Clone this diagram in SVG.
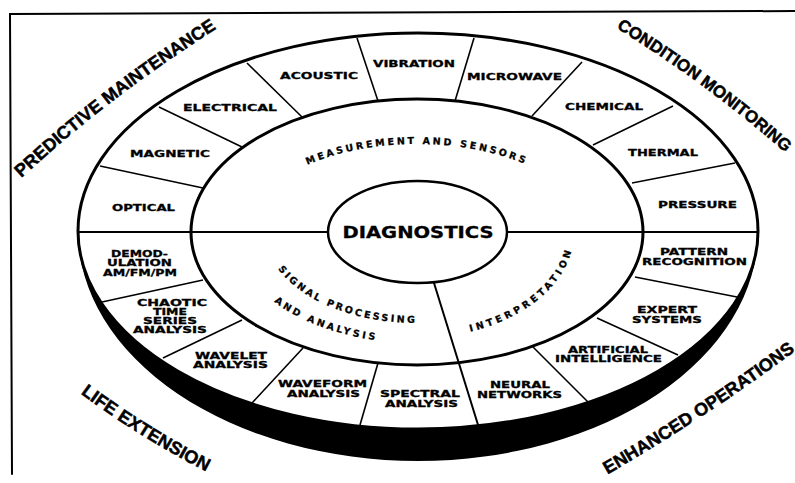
<svg xmlns="http://www.w3.org/2000/svg" width="795" height="483" viewBox="0 0 795 483">
<style>
.ln{stroke:#000;fill:none;stroke-linecap:round}
.sep{stroke:#000;stroke-width:1.6;fill:none}
.lbl{font-family:"DejaVu Sans",Verdana,sans-serif;font-weight:bold;font-size:9.5px;fill:#000;stroke:#000;stroke-width:0.3;text-anchor:middle}
.sm{font-size:9px}
.arc{font-family:"DejaVu Sans",Verdana,sans-serif;font-weight:bold;font-size:9.5px;fill:#000;stroke:#000;stroke-width:0.3;letter-spacing:2.7px}
.big{font-family:"Liberation Sans",Arial,sans-serif;font-weight:bold;font-size:18px;fill:#000;stroke:#000;stroke-width:0.5;text-anchor:middle}
.hub{font-family:"DejaVu Sans",Verdana,sans-serif;font-weight:bold;font-size:15px;fill:#000;stroke:#000;stroke-width:0.3;text-anchor:middle}
</style>
<defs>
<path id="pPred" d="M 15,184 Q 110,95 224,24"/>
<path id="pCond" d="M 603,20 Q 707,82 797,163"/>
<path id="pLife" d="M 69,385 Q 140,439 219,478"/>
<path id="pEnh" d="M 596,481 Q 705,419 806,343"/>
<path id="pMeas" d="M 247,232 A 170,88 0 0 1 587,232"/>
<path id="pSig" d="M 265,232 A 152,91 0 0 0 569,232"/>
<path id="pAnd" d="M 233,232 A 184,111 0 0 0 601,232"/>
<path id="pInt" d="M 260,232 A 157,106 0 0 0 574,232 A 157,106 0 0 0 417,126"/>
</defs>
<rect width="795" height="483" fill="#fff"/>
<polyline class="ln" stroke-width="2" points="12,474 10,14 795,11"/>

<g id="disk">
<path d="M 78,231 A 340,198 0 0 0 758,231 A 340,230 0 0 1 78,231 Z" fill="#000"/>
<ellipse cx="418" cy="231" rx="340" ry="198" fill="#fff" stroke="#000" stroke-width="3"/>
<ellipse cx="417" cy="232" rx="226" ry="133" fill="none" stroke="#000" stroke-width="3"/>
</g>

<g id="connectors">
<line class="ln" stroke-width="2" x1="79" y1="232" x2="328" y2="232"/>
<line class="ln" stroke-width="2" x1="507" y1="232" x2="757" y2="232"/>
<line class="sep" x1="100" y1="166" x2="203" y2="188"/>
<line class="sep" x1="159" y1="107" x2="242" y2="147"/>
<line class="sep" x1="247" y1="63" x2="302" y2="117"/>
<line class="sep" x1="357" y1="38" x2="378" y2="101"/>
<line class="sep" x1="474" y1="38" x2="455" y2="101"/>
<line class="sep" x1="582" y1="62" x2="532" y2="116"/>
<line class="sep" x1="673" y1="106" x2="593" y2="145"/>
<line class="sep" x1="735" y1="163" x2="632" y2="183"/>
<line class="sep" x1="102" y1="302" x2="203" y2="280"/>
<line class="sep" x1="163" y1="358" x2="242" y2="320"/>
<line class="sep" x1="252" y1="403" x2="303" y2="348"/>
<line class="sep" x1="360" y1="425" x2="378" y2="363"/>
<line class="sep" x1="588" y1="402" x2="533" y2="347"/>
<line class="sep" x1="678" y1="355" x2="597" y2="318"/>
<line class="sep" x1="737" y1="297" x2="635" y2="277"/>
<line class="ln" stroke-width="2" x1="434" y1="283" x2="479" y2="428"/>
</g>

<g id="diagnostics">
<ellipse cx="417.5" cy="232" rx="89.5" ry="51" fill="#fff" stroke="#000" stroke-width="2.5"/>
<text class="hub" x="418" y="237.5" textLength="151" lengthAdjust="spacingAndGlyphs">DIAGNOSTICS</text>
</g>

<g id="measurement"><text class="arc"><textPath href="#pMeas" startOffset="50%" text-anchor="middle">MEASUREMENT AND SENSORS</textPath></text></g>
<g id="signal"><text class="arc" style="letter-spacing:2.5px"><textPath href="#pSig" startOffset="40">SIGNAL PROCESSING</textPath></text>
<text class="arc" style="letter-spacing:2.8px"><textPath href="#pAnd" startOffset="84">AND ANALYSIS</textPath></text></g>
<g id="interpretation"><text class="arc" style="letter-spacing:3.4px"><textPath href="#pInt" startOffset="262">INTERPRETATION</textPath></text></g>

<g id="acoustic"><text class="lbl" x="319" y="78.5" textLength="78" lengthAdjust="spacingAndGlyphs">ACOUSTIC</text></g>
<g id="vibration"><text class="lbl" x="414" y="66.5" textLength="82" lengthAdjust="spacingAndGlyphs">VIBRATION</text></g>
<g id="microwave"><text class="lbl" x="514.5" y="79.5" textLength="95" lengthAdjust="spacingAndGlyphs">MICROWAVE</text></g>
<g id="chemical"><text class="lbl" x="604" y="109.5" textLength="78" lengthAdjust="spacingAndGlyphs">CHEMICAL</text></g>
<g id="thermal"><text class="lbl" x="663" y="155.5" textLength="70" lengthAdjust="spacingAndGlyphs">THERMAL</text></g>
<g id="pressure"><text class="lbl" x="697.5" y="207.5" textLength="79" lengthAdjust="spacingAndGlyphs">PRESSURE</text></g>
<g id="electrical"><text class="lbl" x="230" y="110.5" textLength="94" lengthAdjust="spacingAndGlyphs">ELECTRICAL</text></g>
<g id="magnetic"><text class="lbl" x="170" y="156.5" textLength="80" lengthAdjust="spacingAndGlyphs">MAGNETIC</text></g>
<g id="optical"><text class="lbl" x="143.5" y="210.5" textLength="63" lengthAdjust="spacingAndGlyphs">OPTICAL</text></g>

<g id="demodulation">
<text class="lbl sm" x="139.5" y="257" textLength="57" lengthAdjust="spacingAndGlyphs">DEMOD-</text>
<text class="lbl sm" x="139.5" y="265.5" textLength="65" lengthAdjust="spacingAndGlyphs">ULATION</text>
<text class="lbl sm" x="140" y="275.5" textLength="74" lengthAdjust="spacingAndGlyphs">AM/FM/PM</text>
</g>
<g id="chaotic">
<text class="lbl sm" x="172" y="305.5" textLength="70" lengthAdjust="spacingAndGlyphs">CHAOTIC</text>
<text class="lbl sm" x="170" y="314.5" textLength="34" lengthAdjust="spacingAndGlyphs">TIME</text>
<text class="lbl sm" x="170" y="323.5" textLength="54" lengthAdjust="spacingAndGlyphs">SERIES</text>
<text class="lbl sm" x="170" y="333" textLength="74" lengthAdjust="spacingAndGlyphs">ANALYSIS</text>
</g>
<g id="wavelet">
<text class="lbl sm" x="231" y="358.5" textLength="72" lengthAdjust="spacingAndGlyphs">WAVELET</text>
<text class="lbl sm" x="230.5" y="367.5" textLength="75" lengthAdjust="spacingAndGlyphs">ANALYSIS</text>
</g>
<g id="waveform">
<text class="lbl sm" x="322.5" y="386.5" textLength="89" lengthAdjust="spacingAndGlyphs">WAVEFORM</text>
<text class="lbl sm" x="323.5" y="396.5" textLength="73" lengthAdjust="spacingAndGlyphs">ANALYSIS</text>
</g>
<g id="spectral">
<text class="lbl sm" x="420" y="396.5" textLength="80" lengthAdjust="spacingAndGlyphs">SPECTRAL</text>
<text class="lbl sm" x="421.5" y="406.5" textLength="73" lengthAdjust="spacingAndGlyphs">ANALYSIS</text>
</g>
<g id="neural">
<text class="lbl sm" x="520" y="387.5" textLength="60" lengthAdjust="spacingAndGlyphs">NEURAL</text>
<text class="lbl sm" x="519.5" y="397.5" textLength="85" lengthAdjust="spacingAndGlyphs">NETWORKS</text>
</g>
<g id="artificial">
<text class="lbl sm" x="608" y="352.5" textLength="80" lengthAdjust="spacingAndGlyphs">ARTIFICIAL</text>
<text class="lbl sm" x="608.5" y="361.5" textLength="107" lengthAdjust="spacingAndGlyphs">INTELLIGENCE</text>
</g>
<g id="expert">
<text class="lbl sm" x="667" y="313" textLength="60" lengthAdjust="spacingAndGlyphs">EXPERT</text>
<text class="lbl sm" x="667" y="322.5" textLength="70" lengthAdjust="spacingAndGlyphs">SYSTEMS</text>
</g>
<g id="pattern">
<text class="lbl sm" x="694" y="255" textLength="68" lengthAdjust="spacingAndGlyphs">PATTERN</text>
<text class="lbl sm" x="694.5" y="265" textLength="105" lengthAdjust="spacingAndGlyphs">RECOGNITION</text>
</g>

<g id="predictive"><text class="big"><textPath href="#pPred" startOffset="50%">PREDICTIVE MAINTENANCE</textPath></text></g>
<g id="condition"><text class="big" style="font-size:17px"><textPath href="#pCond" startOffset="50%">CONDITION MONITORING</textPath></text></g>
<g id="life"><text class="big"><textPath href="#pLife" startOffset="50%">LIFE EXTENSION</textPath></text></g>
<g id="enhanced"><text class="big"><textPath href="#pEnh" startOffset="50%">ENHANCED OPERATIONS</textPath></text></g>
</svg>
